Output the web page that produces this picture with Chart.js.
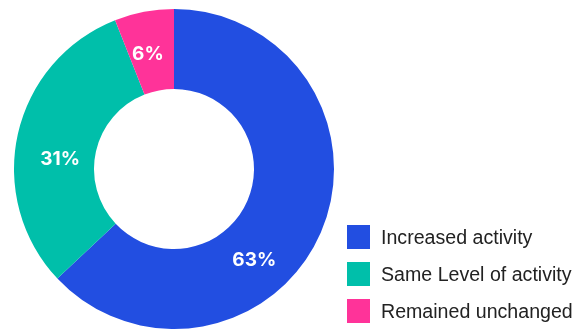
<!DOCTYPE html>
<html>
<head>
<meta charset="utf-8">
<script src="https://cdn.jsdelivr.net/npm/chart.js@4"></script>
<style>
  body { margin: 0; background: #fff; }
  #wrap { position: relative; width: 580px; height: 329px; overflow: hidden; }
  #legend { position: absolute; left: 347px; top: 225px; margin: 0; padding: 0; list-style: none;
            font-family: "Liberation Sans", Arial, sans-serif; font-size: 19.6px; color: #222; }
  #legend li { display: flex; align-items: center; height: 24px; margin-bottom: 13px; white-space: nowrap; }
  #legend span.box { display: inline-block; width: 23px; height: 24px; margin-right: 11px; }
</style>
</head>
<body>
<div id="wrap">
  <canvas id="DonutCvs" width="580" height="329"></canvas>
  <ul id="legend"></ul>
</div>
<script>
// activity share, percent
const categories = ['Increased activity', 'Same Level of activity', 'Remained unchanged'];
const shares = [63, 31, 6];
const colors = ['rgb(34, 78, 225)', 'rgb(0, 191, 170)', 'rgb(255, 51, 153)'];

// where the % text sits in each slice: [along the arc, across the ring], 0..1
const labelSpot = [[0.61, 0.51], [0.436, 0.43], [0.41, 0.48]];

// write the value inside every slice
const sliceLabels = {
  id: 'sliceLabels',
  afterDatasetsDraw(chart) {
    const ctx = chart.ctx;
    const meta = chart.getDatasetMeta(0);
    const size = 19;
    ctx.save();
    ctx.fillStyle = '#fff';
    ctx.font = 'bold ' + size + 'px Inter, Roboto, sans-serif';
    ctx.textAlign = 'center';
    ctx.textBaseline = 'alphabetic';
    meta.data.forEach((arc, i) => {
      const p = arc.getProps(['x', 'y', 'startAngle', 'endAngle', 'innerRadius', 'outerRadius'], true);
      const a = p.startAngle + (p.endAngle - p.startAngle) * labelSpot[i][0];
      const r = p.innerRadius + (p.outerRadius - p.innerRadius) * labelSpot[i][1];
      // centre the digits (cap height ~0.73em) on the spot
      ctx.fillText(shares[i] + '%', p.x + Math.cos(a) * r, p.y + Math.sin(a) * r + size * 0.365);
    });
    ctx.restore();
  }
};

const donutCtx = document.getElementById('DonutCvs').getContext('2d');
new Chart(donutCtx, {
  type: 'doughnut',
  data: {
    labels: categories,
    datasets: [{
      data: shares,
      backgroundColor: colors,
      borderWidth: 0,
    }]
  },
  options: {
    responsive: false,
    animation: false,
    cutout: '50%',
    layout: { padding: { left: 0, right: 232, top: 9, bottom: 0 } },
    plugins: {
      legend: { display: false },
      tooltip: { enabled: false },
    }
  },
  plugins: [sliceLabels]
});

// legend on the lower right
const legendEl = document.getElementById('legend');
categories.forEach((name, i) => {
  const li = document.createElement('li');
  const box = document.createElement('span');
  box.className = 'box';
  box.style.background = colors[i];
  li.appendChild(box);
  li.appendChild(document.createTextNode(name));
  legendEl.appendChild(li);
});
</script>
</body>
</html>
